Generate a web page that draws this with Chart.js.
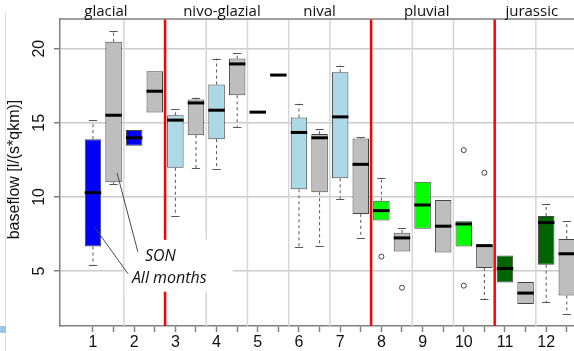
<!DOCTYPE html>
<html>
<head>
<meta charset="utf-8">
<script src="https://cdn.jsdelivr.net/npm/chart.js@4.4.0/dist/chart.umd.min.js"></script>
<style>
    html, body { margin: 0; padding: 0; background: #fff; overflow: hidden; }
    canvas { display: block; }
</style>
</head>
<body>
<canvas id="chart" width="574" height="351"></canvas>
<script>
// catchment groups, two boxes each: all months and SON
const groupNames = ['1', '2', '3', '4', '5', '6', '7', '8', '9', '10', '11', '12'];

const allLow  = [5.43, 13.45, 8.74, 11.86, 15.72, 6.66, 9.85, 8.41, 7.85, 6.66, 4.24, 2.89];
const allQ1   = [6.66, 13.45, 11.97, 13.90, 15.72, 10.52, 11.26, 8.41, 7.85, 6.66, 4.24, 5.43];
const allMed  = [10.29, 13.99, 15.18, 15.85, 15.72, 14.35, 15.40, 9.08, 9.46, 8.18, 5.18, 8.27];
const allQ3   = [13.90, 14.51, 15.51, 17.58, 15.72, 15.36, 18.41, 9.75, 11.03, 8.37, 6.05, 8.72];
const allHigh = [15.18, 14.51, 15.90, 19.33, 15.72, 16.28, 18.86, 11.30, 11.03, 8.37, 6.05, 9.51];

const sonLow  = [10.87, 15.70, 11.93, 14.73, 18.22, 6.70, 7.22, 6.32, 6.26, 3.14, 2.78, 2.13];
const sonQ1   = [10.99, 15.70, 14.17, 16.86, 18.22, 10.32, 8.86, 6.32, 6.26, 5.21, 2.78, 3.36];
const sonMed  = [15.51, 17.13, 16.34, 18.97, 18.22, 13.99, 12.20, 7.24, 8.03, 6.72, 3.52, 6.17];
const sonQ3   = [20.47, 18.47, 16.57, 19.33, 18.22, 14.24, 13.95, 7.58, 9.80, 6.75, 4.26, 7.16];
const sonHigh = [21.18, 18.47, 16.70, 19.70, 18.22, 14.55, 14.03, 7.94, 9.80, 6.75, 4.26, 8.37];

// [group, value]
const allOutliers = [[8, 5.98], [10, 13.16], [10, 4.02]];
const sonOutliers = [[8, 3.88], [10, 11.63]];

const regimeNames  = ['glacial', 'nivo-glazial', 'nival', 'pluvial', 'jurassic'];
const regimeGroups = [2, 3, 2, 3, 2];
const regimeColors = ['#0000ff', '#add8e6', '#add8e6', '#00ff00', '#006400'];
const regimeLabelX = [1.63, 7.26, 12.0, 17.2, 22.3];
const redAfterGroup = [2, 7, 10];
const sonColor = '#bebebe';

const yTicks = [5, 10, 15, 20];

// build the 24 boxes
const groupColor = [];
regimeGroups.forEach((n, r) => { for (let k = 0; k < n; k++) groupColor.push(regimeColors[r]); });

const boxes = [];
groupNames.forEach((g, i) => {
    boxes.push({ x: 2 * i + 1, lo: allLow[i], q1: allQ1[i], med: allMed[i], q3: allQ3[i], hi: allHigh[i], color: groupColor[i] });
    boxes.push({ x: 2 * i + 2, lo: sonLow[i], q1: sonQ1[i], med: sonMed[i], q3: sonQ3[i], hi: sonHigh[i], color: sonColor });
});
const outliers = [
    ...allOutliers.map(([g, v]) => ({ x: 2 * g - 1, y: v })),
    ...sonOutliers.map(([g, v]) => ({ x: 2 * g, y: v })),
];

function line(ctx, x1, y1, x2, y2) {
    ctx.beginPath();
    ctx.moveTo(x1, y1);
    ctx.lineTo(x2, y2);
    ctx.stroke();
}

const boxPlugin = {
    id: 'boxParts',
    beforeDatasetsDraw(chart) {
        const { ctx, chartArea: a, scales: { x, y } } = chart;
        ctx.save();
        // separators between catchment groups
        for (let g = 1; g < groupNames.length; g++) {
            const px = x.getPixelForValue(2 * g + 0.5);
            const red = redAfterGroup.includes(g);
            ctx.strokeStyle = red ? '#ff0000' : '#d6d6d6';
            ctx.lineWidth = red ? 2.5 : 1.5;
            line(ctx, px, a.top, px, a.bottom);
        }
        // whiskers
        const meta = chart.getDatasetMeta(0);
        boxes.forEach((b, i) => {
            const px = x.getPixelForValue(b.x);
            const cap = meta.data[i].width / 4;
            ctx.strokeStyle = '#555';
            ctx.lineWidth = 1;
            [[b.q3, b.hi], [b.q1, b.lo]].forEach(([from, to]) => {
                if (from === to) return;
                ctx.setLineDash([3, 3]);
                line(ctx, px, y.getPixelForValue(from), px, y.getPixelForValue(to));
                ctx.setLineDash([]);
                const py = Math.round(y.getPixelForValue(to)) + 0.5;
                line(ctx, px - cap, py, px + cap, py);
            });
        });
        ctx.restore();
    },
    afterDatasetsDraw(chart) {
        const { ctx, chartArea: a, scales: { x, y } } = chart;
        const meta = chart.getDatasetMeta(0);
        ctx.save();
        // medians
        ctx.strokeStyle = '#000';
        ctx.lineWidth = 3;
        boxes.forEach((b, i) => {
            const px = x.getPixelForValue(b.x);
            const half = meta.data[i].width / 2;
            const py = y.getPixelForValue(b.med);
            line(ctx, px - half, py, px + half, py);
        });

        // annotation box with leader lines
        const rx1 = x.getPixelForValue(2.5), rx2 = x.getPixelForValue(7.75);
        const ry1 = y.getPixelForValue(7.11), ry2 = y.getPixelForValue(3.61);
        ctx.fillStyle = '#fff';
        ctx.fillRect(rx1 + 0.8, ry1, rx2 - rx1, ry2 - ry1);
        ctx.strokeStyle = '#4a4a4a';
        ctx.lineWidth = 1;
        line(ctx, x.getPixelForValue(2.17), y.getPixelForValue(11.61), x.getPixelForValue(3.18), y.getPixelForValue(6.3));
        line(ctx, x.getPixelForValue(1.1), y.getPixelForValue(7.92), x.getPixelForValue(2.7), y.getPixelForValue(4.82));
        ctx.fillStyle = '#111';
        ctx.font = 'italic 16px "Open Sans"';
        ctx.textAlign = 'left';
        ctx.textBaseline = 'alphabetic';
        ctx.fillText('SON', x.getPixelForValue(3.52), y.getPixelForValue(5.71));
        ctx.fillText('All months', x.getPixelForValue(2.89), y.getPixelForValue(4.17));
        ctx.restore();
    },
    afterDraw(chart) {
        const { ctx, chartArea: a, scales: { x, y } } = chart;
        ctx.save();
        // top frame
        ctx.strokeStyle = '#808080';
        ctx.lineWidth = 1.5;
        line(ctx, a.left - 0.75, a.top, a.right, a.top);

        // regime names
        ctx.fillStyle = '#111';
        ctx.font = '15px "Open Sans"';
        ctx.textAlign = 'center';
        ctx.textBaseline = 'alphabetic';
        regimeNames.forEach((n, i) => ctx.fillText(n, x.getPixelForValue(regimeLabelX[i]), a.top - 3));

        // rotated y tick labels and title
        ctx.font = '16px "Liberation Sans", Arial';
        ctx.textBaseline = 'middle';
        yTicks.forEach((v) => {
            ctx.save();
            ctx.translate(40, y.getPixelForValue(v));
            ctx.rotate(-Math.PI / 2);
            ctx.fillText(String(v), 0, 0);
            ctx.restore();
        });
        ctx.save();
        ctx.translate(15, (a.top + a.bottom) / 2 - 3);
        ctx.rotate(-Math.PI / 2);
        ctx.fillText('baseflow [l/(s*qkm)]', 0, 0);
        ctx.restore();

        // slide leftovers at the left edge
        ctx.strokeStyle = '#e2e2e2';
        ctx.lineWidth = 1;
        line(ctx, 5.5, 12, 5.5, 351);
        ctx.fillStyle = '#9dc3e6';
        ctx.fillRect(0, 326, 6, 7);
        ctx.restore();
    },
};

new Chart(document.getElementById('chart'), {
    type: 'bar',
    data: {
        datasets: [
            {
                data: boxes.map((b) => ({ x: b.x, y: [b.q1, b.q3] })),
                backgroundColor: boxes.map((b) => b.color),
                borderColor: '#444',
                borderWidth: 1,
                borderSkipped: false,
                barPercentage: 1,
                categoryPercentage: 0.8,
            },
            {
                type: 'scatter',
                data: outliers,
                pointRadius: 2.5,
                pointHoverRadius: 2.5,
                pointBackgroundColor: 'rgba(0,0,0,0)',
                pointBorderColor: '#444',
                pointBorderWidth: 1,
            },
        ],
    },
    options: {
        responsive: false,
        devicePixelRatio: 1,
        animation: false,
        layout: { autoPadding: false, padding: { top: 19, right: 0, left: 0, bottom: 0 } },
        plugins: { legend: { display: false }, tooltip: { enabled: false } },
        scales: {
            x: {
                type: 'linear',
                offset: false,
                min: -0.6,
                max: 24.35,
                afterBuildTicks: (scale) => {
                    scale.ticks = boxes.map((b) => ({ value: b.x }));
                },
                afterFit: (scale) => {
                    scale.height = 25;
                },
                ticks: {
                    autoSkip: false,
                    maxRotation: 0,
                    padding: 1,
                    color: '#111',
                    font: { family: '"Liberation Sans", Arial', size: 16 },
                    callback: (v) => (v % 2 === 1 ? groupNames[(v - 1) / 2] : ''),
                },
                grid: { offset: false, drawOnChartArea: false, tickLength: 6, tickColor: '#808080', tickWidth: 1.5 },
                border: { color: '#808080', width: 1.5 },
            },
            y: {
                min: 1.3,
                max: 22,
                afterBuildTicks: (scale) => {
                    scale.ticks = yTicks.map((v) => ({ value: v }));
                },
                afterFit: (scale) => {
                    scale.width = 60;
                },
                ticks: { display: false },
                grid: { color: '#cccccc', lineWidth: 1.5, tickLength: 6, tickColor: '#808080', tickWidth: 1.5 },
                border: { color: '#808080', width: 1.5 },
            },
        },
    },
    plugins: [boxPlugin],
});
</script>
</body>
</html>
